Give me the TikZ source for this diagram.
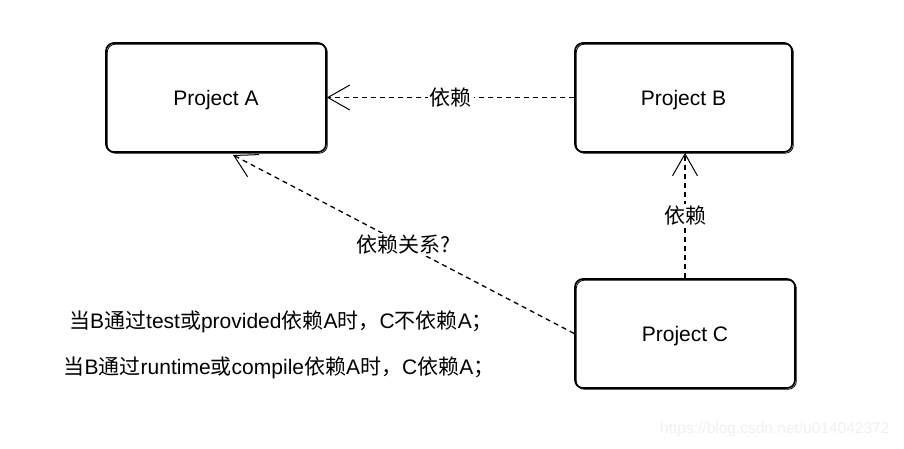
\documentclass[tikz,border=0pt]{standalone}
\usepackage{fontspec}
\setmainfont{Liberation Sans}
\newfontfamily\cjk{Noto Sans CJK SC}
\newcommand{\zh}[1]{{\cjk #1}}
\usetikzlibrary{arrows.meta}
\tikzset{every node/.style={font=\fontsize{21}{25}\selectfont},
  sketchbox/.style={draw, line width=1.7pt, rounded corners=8pt,
    minimum width=220pt, minimum height=109pt, text depth=0pt,
    postaction={draw, line width=0.8pt, rounded corners=9pt,
      transform canvas={shift={(1.3pt,-1.2pt)}}}},
  depline/.style={dash pattern=on 5pt off 4pt, line width=1.3pt,
    -{Straight Barb[length=22pt,width=25pt,line width=1pt]}},
  deplabel/.style={fill=white, inner sep=2pt}}

\begin{document}
\begin{tikzpicture}[x=1pt,y=-1pt]
\useasboundingbox (0,0) rectangle (904,448);
% the three projects
\node[sketchbox] (A) at (216,97.5) {Project A};
\node[sketchbox, minimum width=217pt] (B) at (683.5,97.5) {Project B};
\node[sketchbox] (C) at (685,333.5) {Project C};
\coordinate (Atip) at (233,155);
% dependencies
\draw[depline] (B.west) -- (A.east) node[midway,deplabel]{\zh{依赖}};
\draw[depline] (C.north) -- (C.north |- B.south) node[midway,deplabel]{\zh{依赖}};
\draw[depline] (C.west) -- (Atip) node[pos=0.5,deplabel]{\zh{依赖关系?}};
% notes
\node (note1) at (281,322) {\zh{当}B\zh{通过}test\zh{或}provided\zh{依赖}A\zh{时，}C\zh{不依赖}A\zh{；}};
\node (note2) at (279,368) {\zh{当}B\zh{通过}runtime\zh{或}compile\zh{依赖}A\zh{时，}C\zh{依赖}A\zh{；}};
\node[anchor=east, text=black!6, font=\fontsize{15.5}{18}\selectfont] (mark) at (893,429) {https://blog.csdn.net/u014042372};
\end{tikzpicture}
\end{document}
